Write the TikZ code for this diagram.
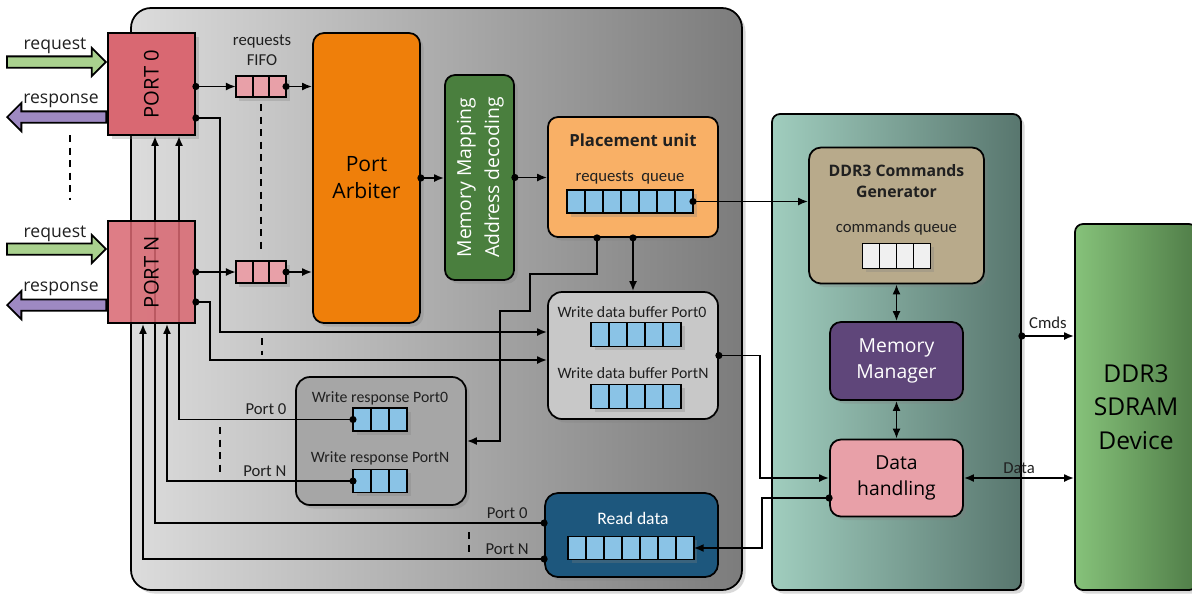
\documentclass[tikz,border=0pt]{standalone}
\usepackage{fontspec}
\setmainfont{Carlito}
\newfontfamily\seg{Open Sans}
\usetikzlibrary{arrows.meta,shadows,shapes.arrows,calc}
\definecolor{portred}{HTML}{D96872}
\definecolor{fifopink}{HTML}{E8A0A8}
\definecolor{arborange}{HTML}{EF7F0A}
\definecolor{mmgreen}{HTML}{4A7F3E}
\definecolor{puorange}{HTML}{F9B066}
\definecolor{qblue}{HTML}{8AC3E6}
\definecolor{wdbgray}{HTML}{C8C8C8}
\definecolor{wrgray}{HTML}{A6A6A6}
\definecolor{rdblue}{HTML}{1D577D}
\definecolor{cgtan}{HTML}{B8AA8B}
\definecolor{mgrpurple}{HTML}{5F467A}
\definecolor{cmdwhite}{HTML}{F0F0F0}
\definecolor{reqgreen}{HTML}{A9D18E}
\definecolor{resppurple}{HTML}{9E89C2}
\definecolor{ctrlL}{HTML}{DCDCDC}
\definecolor{ctrlR}{HTML}{7C7C7C}
\definecolor{mcL}{HTML}{A0CDBE}
\definecolor{mcR}{HTML}{58766E}
\definecolor{ddrL}{HTML}{86C27A}
\definecolor{ddrR}{HTML}{507D48}
\definecolor{txt}{HTML}{202020}
\pgfdeclarelayer{back}
\pgfdeclarelayer{mid}
\pgfsetlayers{back,mid,main}

% queue of cells: name, centre, cells, cell width, height, fill
\newcommand{\qrow}[6]{%
  \node[qbox, fill=#6, minimum width=#3*#4*0.2mm, minimum height=#5*0.2mm] (#1) at (#2) {};
  \foreach \k in {2,...,#3}
    \draw[qline] ([xshift={(\k-1)*#4*0.2mm}]#1.south west) -- ([xshift={(\k-1)*#4*0.2mm}]#1.north west);
}

\begin{document}
\begin{tikzpicture}[x=0.2mm, y=-0.2mm,
    sz/.style 2 args={minimum width=#1*0.2mm, minimum height=#2*0.2mm, inner sep=0pt},
    shd/.style={drop shadow={shadow xshift=0.7mm, shadow yshift=-0.7mm, opacity=0.3}},
    blk/.style={draw=black, line width=1pt, shd},
    rbox/.style={blk, rounded corners=2.2mm, align=center},
    qbox/.style={draw=black, line width=1pt, outer sep=0pt, inner sep=0pt, shd},
    qline/.style={line width=1pt},
    wire/.style={line width=1.05pt, line cap=rect},
    arr/.style={wire, -{Latex[length=2mm,width=1.6mm]}},
    darr/.style={wire, {Circle[length=1.4mm]}-{Latex[length=2mm,width=1.6mm]}, shorten <=-0.7mm},
    dwire/.style={wire, {Circle[length=1.4mm]}-, shorten <=-0.7mm},
    dbl/.style={wire, {Latex[length=2mm,width=1.6mm]}-{Latex[length=2mm,width=1.6mm]}},
    dsh/.style={line width=1pt, dash pattern=on 1.4mm off 1.1mm},
    lbl/.style={font=\fontsize{9.5}{11.5}\selectfont, text=txt, inner sep=2pt, align=center},
    small/.style={font=\fontsize{9}{11}\selectfont, text=txt, inner sep=1pt},
    seglbl/.style={font=\seg\fontsize{10}{12}\selectfont, text=txt, inner sep=1pt},
    fatarr/.style={single arrow, draw=black, line width=1pt, minimum height=99*0.2mm,
      minimum width=26*0.2mm, inner sep=0.95mm, single arrow head extend=1.7mm,
      single arrow tip angle=90}]
  \useasboundingbox (0,0) rectangle (1192,595);

  % containers
  \begin{pgfonlayer}{back}
    \node[blk, sz={611}{582}, rounded corners=4mm, left color=ctrlL, right color=ctrlR] (ctrl) at (436.5,299) {};
    \node[blk, sz={249}{476}, rounded corners=1.6mm, left color=mcL, right color=mcR] (mc) at (896.5,352) {};
    \node[blk, sz={122}{366}, rounded corners=1.6mm, left color=ddrL, right color=ddrR,
      font=\seg\fontsize{14}{19}\selectfont, align=center] (ddr) at (1136,407) {DDR3\\SDRAM\\Device};
  \end{pgfonlayer}

  % ports
  \node[blk, sz={87}{102}, fill=portred, font=\seg\fontsize{11.5}{13}\selectfont] (p0) at (151.5,84) {\rotatebox{90}{PORT 0}};
  \node[draw=black, line width=1pt, sz={87}{102}, fill=portred, fill opacity=0.86, text opacity=1,
    font=\seg\fontsize{11.5}{13}\selectfont] (pN) at (151.5,272) {\rotatebox{90}{PORT N}};

  \node[fatarr, fill=reqgreen, anchor=tip] (rq0) at ($(p0.west)+(0,-22)$) {};
  \node[fatarr, fill=resppurple, shape border rotate=180, anchor=tail] (rs0) at ($(p0.west)+(0,33)$) {};
  \node[fatarr, fill=reqgreen, anchor=tip] (rqN) at ($(pN.west)+(0,-23)$) {};
  \node[fatarr, fill=resppurple, shape border rotate=180, anchor=tail] (rsN) at ($(pN.west)+(0,33)$) {};
  \node[seglbl] (lrq0) at (55,46) {request};
  \node[seglbl] (lrs0) at (61,101) {response};
  \node[seglbl] (lrqN) at (55,234) {request};
  \node[seglbl] (lrsN) at (61,289) {response};
  \draw[dsh] (70,135) -- (70,200);

  % request fifos and arbiter
  \node[lbl] (lfifo) at (262,50) {requests\\FIFO};
  \qrow{fq0}{261,86.5}{3}{16.7}{21}{fifopink}
  \qrow{fqN}{261,272}{3}{16.7}{22}{fifopink}
  \node[rbox, sz={107}{290}, fill=arborange, font=\seg\fontsize{12}{15.3}\selectfont] (arb) at (366.5,178) {Port\\Arbiter};
  \node[rbox, sz={69}{205}, rounded corners=2mm, fill=mmgreen, text=white,
    font=\seg\fontsize{11}{15.9}\selectfont] (mm) at (479.5,177.5)
    {\rotatebox{90}{\begin{tabular}{@{}c@{}}Memory Mapping\\Address decoding\end{tabular}}};

  % placement unit
  \node[rbox, sz={170}{120}, rounded corners=2mm, fill=puorange] (pu) at (633,177) {};
  \node[font=\seg\bfseries\fontsize{9.5}{11}\selectfont, text=txt] (putitle) at (633,140) {Placement unit};
  \node[lbl] (puqlbl) at (630,178) {requests\ \ queue};
  \qrow{pq}{630,201.5}{7}{18}{23}{qblue}

  % write data buffers
  \node[rbox, sz={170}{127}, rounded corners=2.8mm, fill=wdbgray] (wdb) at (633,355.5) {};
  \node[small] (ldb0) at (632,312) {Write data buffer Port0};
  \qrow{dq0}{636,334.5}{5}{18}{24}{qblue}
  \node[small] (ldbN) at (633,373) {Write data buffer PortN};
  \qrow{dqN}{636,396.5}{5}{18}{24}{qblue}

  % write responses
  \node[rbox, sz={170}{128}, rounded corners=2.8mm, fill=wrgray] (wr) at (381,441) {};
  \node[small] (lwr0) at (380,398) {Write response Port0};
  \qrow{wq0}{380,419.5}{3}{18}{23}{qblue}
  \node[small] (lwrN) at (380,458) {Write response PortN};
  \qrow{wqN}{380,481}{3}{18}{23}{qblue}

  % read data
  \node[rbox, sz={173}{84}, rounded corners=2.6mm, fill=rdblue] (rd) at (631.5,535) {};
  \node[lbl, text=white, font=\fontsize{10}{12}\selectfont] (lrd) at (633,518) {Read data};
  \qrow{rq}{631,548}{7}{17.9}{23}{qblue}

  % memory controller
  \node[rbox, sz={175}{136}, rounded corners=2.4mm, fill=cgtan] (cg) at (896.5,215.5) {};
  \node[font=\seg\bfseries\fontsize{9}{12}\selectfont, text=txt, align=center] (cgtitle) at (896.5,181) {DDR3 Commands\\Generator};
  \node[lbl] (lcq) at (896.5,228) {commands queue};
  \qrow{cq}{896.5,256}{4}{17}{25}{cmdwhite}
  \node[rbox, sz={133}{78}, fill=mgrpurple, text=white, font=\seg\fontsize{11}{14.7}\selectfont] (mgr) at (896.5,361) {Memory\\Manager};
  \node[rbox, sz={133}{77}, fill=fifopink, font=\seg\fontsize{11}{14.7}\selectfont] (dh) at (896.5,478) {Data\\handling};

  % request path
  \draw[darr] (p0.east |- fq0.west) -- (fq0.west);
  \draw[darr] (fq0.east) -- (fq0.east -| arb.west);
  \draw[darr] (pN.east |- fqN.west) -- (fqN.west);
  \draw[darr] (fqN.east) -- (fqN.east -| arb.west);
  \draw[dsh] ($(fq0.south)+(0,7)$) -- ($(fqN.north)+(0,-9)$);
  \draw[darr] (arb.east) -- (arb.east -| mm.west);
  \draw[darr] (mm.east) -- (mm.east -| pu.west);
  \draw[darr] (pq.east) -- (pq.east -| cg.west);
  \draw[darr] (pu.south) -- (wdb.north);
  \draw[darr] ($(pu.south)+(-36,0)$) |- (530,274) |- (500,311) |- (wr.east);

  % write data
  \draw[darr] ($(p0.east)+(0,34)$) -- ++(24,0) |- ($(wdb.west)+(0,-23.5)$);
  \draw[darr] ($(pN.east)+(0,30)$) -- ++(14,0) |- ($(wdb.west)+(0,4.5)$);
  \draw[dsh] (262,338) -- (262,355);
  \draw[darr] (wdb.east) -- ++(41,0) |- (dh.west);
  \draw[darr] ($(dh.west)+(0,20)$) -- ++(-67,0) |- (rq.east);

  % controller links
  \draw[dbl] (cg.south) -- (mgr.north);
  \draw[dbl] (mgr.south) -- (dh.north);
  \draw[darr] ($(mc.east)+(0,-16)$) coordinate (cm) -- (cm -| ddr.west) node[lbl, midway, above=1.5pt] (lcmd) {Cmds};
  \draw[dbl] (dh.east) -- (dh.east -| ddr.west) node[lbl, midway, above] (ldat) {Data};

  % responses back to the ports
  \coordinate (k0) at ($(p0.south)+(27.5,0)$);
  \coordinate (k1) at ($(p0.south)+(3.5,0)$);
  \draw[dwire] (wq0.west) -- (wq0.west -| k0) node[lbl, pos=0.5, above] (lwp0) {Port 0};
  \draw[darr] (wqN.west) -| ($(pN.south)+(15.5,0)$) node[lbl, pos=0.237, above] (lwpN) {Port N};
  \draw[dsh] (220,427) -- (220,476);
  \draw[dwire] ($(rd.west)+(0,-12)$) coordinate (r0) -- (r0 -| k1) node[lbl, pos=0.095, above] (lrp0) {Port 0};
  \draw[darr] ($(rd.west)+(0,24)$) -| ($(pN.south)+(-8.5,0)$) node[lbl, pos=0.046, above] (lrpN) {Port N};
  \draw[dsh] (469,532) -- (469,552);
  \begin{pgfonlayer}{mid}
    \draw[arr] (wq0.west -| k0) -- (k0);
    \draw[arr] (r0 -| k1) -- (k1);
  \end{pgfonlayer}
\end{tikzpicture}
\end{document}
